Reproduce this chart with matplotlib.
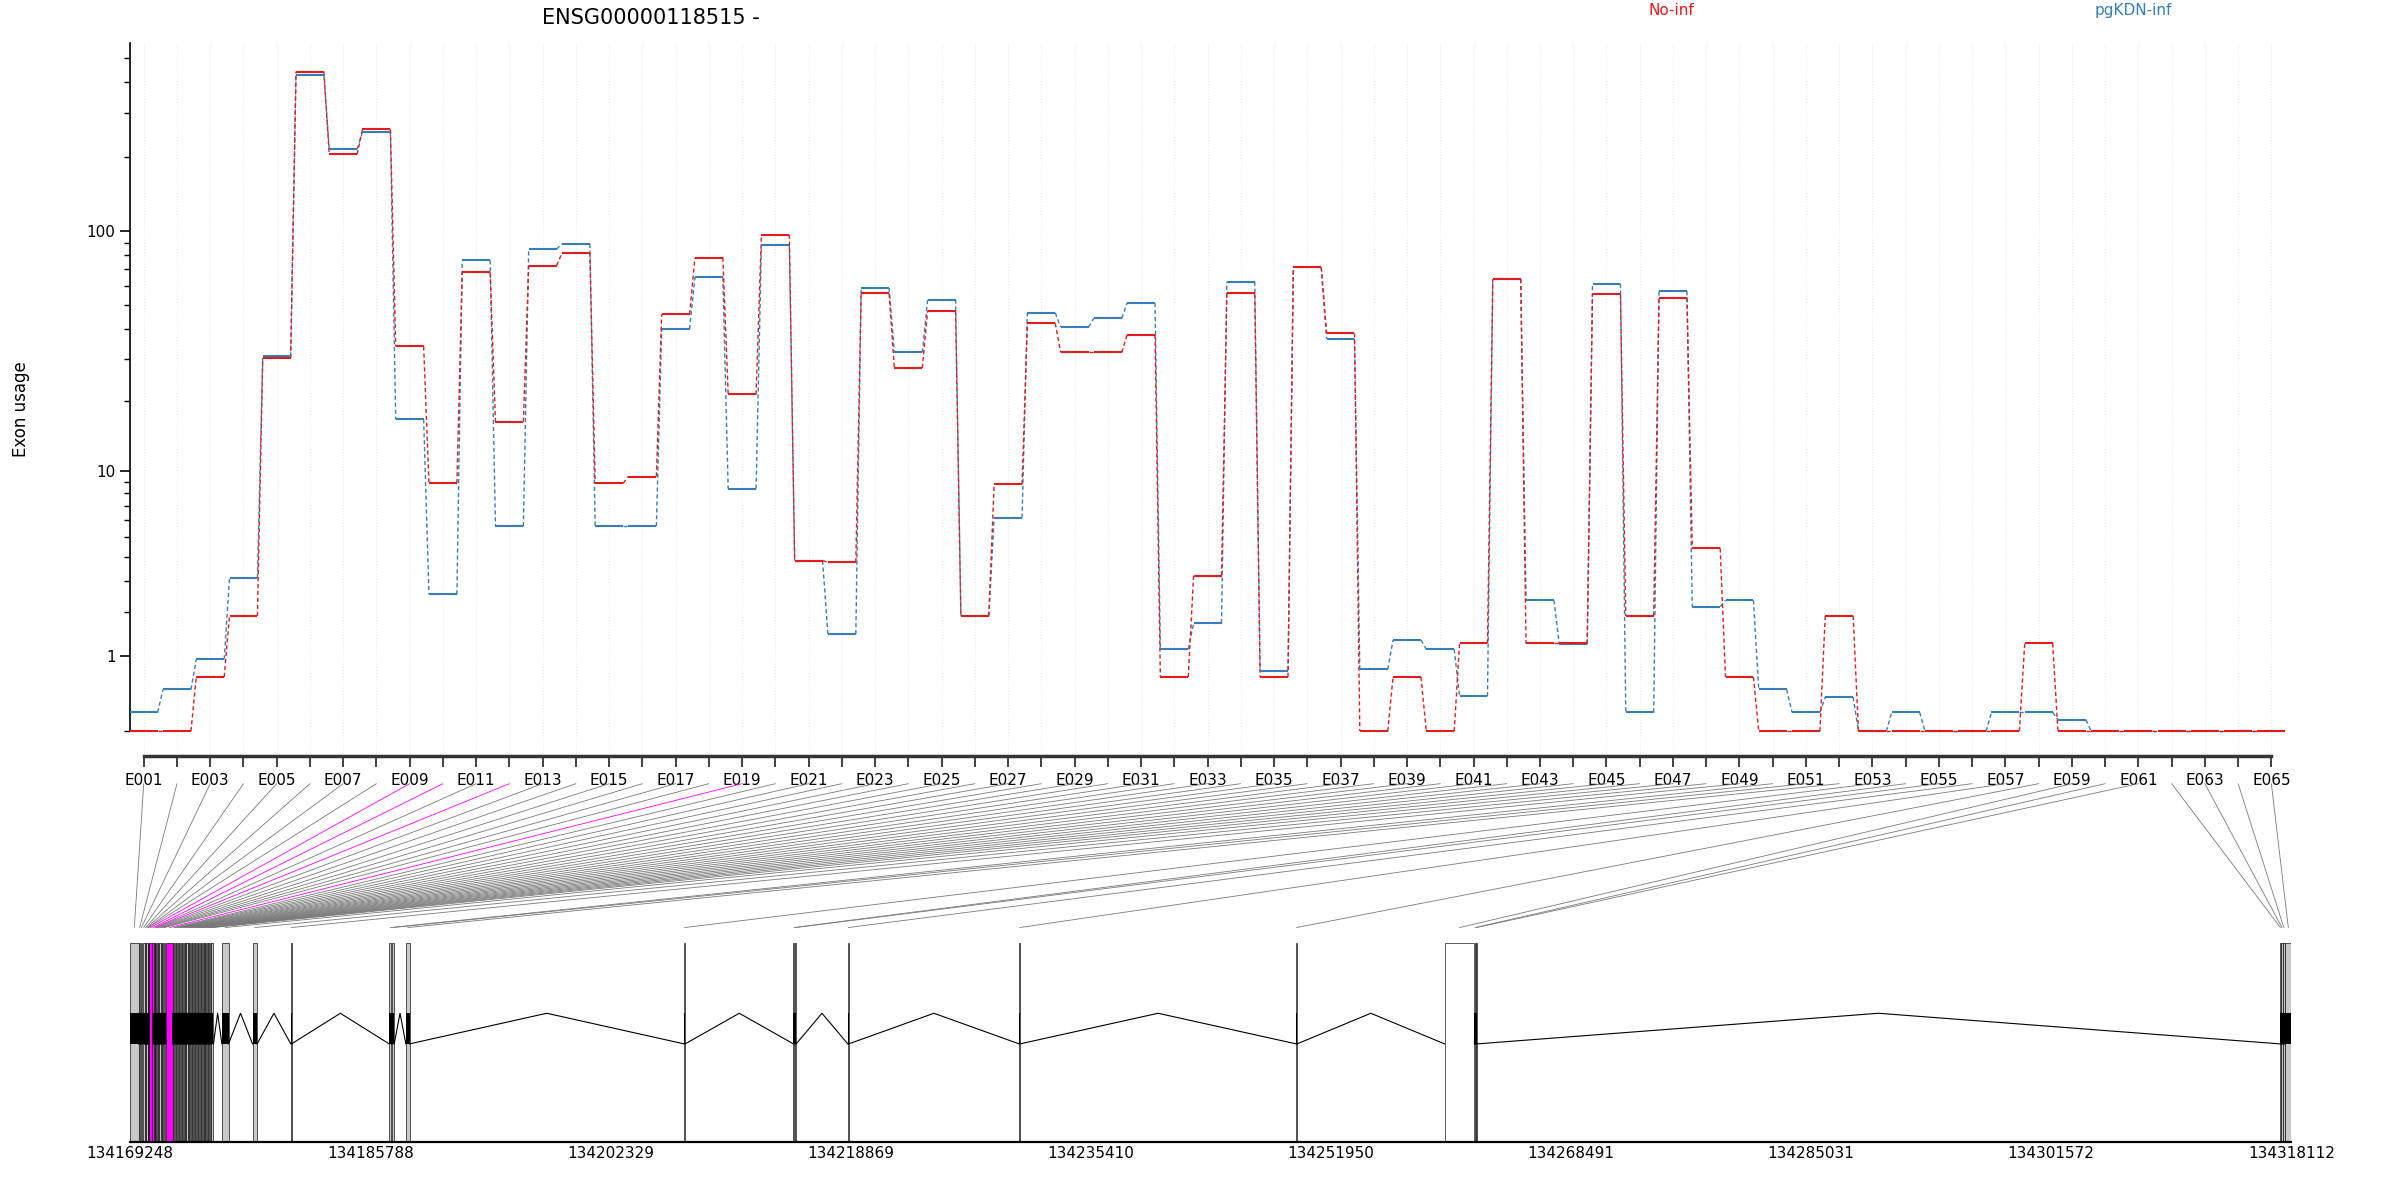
import numpy as np
import matplotlib
matplotlib.use("Agg")
import matplotlib.pyplot as plt
from matplotlib.patches import Rectangle, ConnectionPatch

gene_id = "ENSG00000118515 -"
conditions = ["No-inf", "pgKDN-inf"]
exon_labels = ["E%03d" % i for i in range(1, 66)]

usage_noinf = [0, 0, 0.65, 1.90, 30.3, 440.6, 204.8, 258, 33.9, 8.86,
               68.2, 16.4, 72.6, 81.6, 8.86, 9.5, 46.0, 78.2, 21.4, 96.9,
               3.83, 3.76, 55.9, 27.6, 47.6, 1.90, 8.79, 42.2, 32.0, 32.0, 37.8,
               0.65, 3.2, 55.9, 0.65, 71.4, 38.4, 0, 0.65, 0, 1.25,
               64.0, 1.25, 1.25, 55.5, 1.90, 53.8, 4.41, 0.65, 0,
               0, 1.90, 0, 0, 0, 0, 0, 1.25, 0, 0, 0, 0, 0, 0, 0]
usage_pgkdn = [0.19, 0.47, 0.94, 3.11, 30.8, 425.6, 214.4, 252, 16.8, 2.54,
               76.3, 5.63, 84.7, 89.0, 5.63, 5.63, 40.0, 65.2, 8.38, 87.7,
               3.83, 1.45, 58.9, 32.0, 52.8, 1.90, 6.18, 46.6, 40.7, 44.3, 51.1,
               1.13, 1.71, 62.4, 0.75, 71.4, 36.5, 0.77, 1.32, 1.13, 0.38,
               64.0, 2.35, 1.23, 61.3, 0.19, 57.1, 2.16, 2.35, 0.47,
               0.19, 0.37, 0, 0.19, 0, 0, 0.19, 0.19, 0.11, 0, 0, 0, 0, 0, 0]

gene_start = 134169248
gene_end = 134318112
exon_start_off = [0, 610, 740, 860, 1030, 1120, 1210, 1270, 1290, 1500,
                  1660, 1740, 1830, 1920, 2020, 2120, 2220, 2320, 2480, 2960,
                  3080, 3180, 3280, 3380, 3480, 3590, 3680, 3790, 3880, 3990,
                  4090, 4190, 4290, 4390, 4490, 4590, 4690, 4790, 4890, 4990,
                  5090, 5190, 5290, 5390, 5490, 5600, 6320, 8432, 11067, 17844,
                  18023, 18993, 38155, 45691, 45807, 49433, 61237, 80314, 90539, 92620,
                  92700, 148080, 148180, 148300, 148450]
exon_end_off = [580, 700, 820, 1010, 1100, 1200, 1260, 1285, 1500, 1640,
                1730, 1800, 1900, 2000, 2100, 2200, 2300, 2400, 2950, 3050,
                3150, 3260, 3350, 3460, 3560, 3650, 3760, 3860, 3960, 4060,
                4160, 4260, 4360, 4460, 4560, 4660, 4760, 4860, 4960, 5060,
                5160, 5260, 5360, 5460, 5560, 5740, 6780, 8748, 11120, 18002,
                18192, 19246, 38230, 45760, 45880, 49500, 61300, 80380, 92600, 92680,
                92780, 148150, 148260, 148400, 148864]
significant = ["E009", "E010", "E012", "E019"]
untested = ["E059"]
pos_ticks = [134169248, 134185788, 134202329, 134218869, 134235410,
             134251950, 134268491, 134285031, 134301572, 134318112]

RED = "#e41a1c"
BLUE = "#377eb8"
MAG = "#ff00ff"

fig = plt.figure(figsize=(24, 12), dpi=100)
L, R = 85 / 1568, 1497 / 1568
ax = fig.add_axes([L, 1 - 494 / 784, R - L, (494 - 28) / 784])

def tr(v):
    return np.log10(np.asarray(v, dtype=float) + 1)

x = np.arange(1, 66)
hw = 0.42
for vals, col in ((usage_pgkdn, BLUE), (usage_noinf, RED)):
    y = tr(vals)
    for i in range(len(x)):
        ax.plot([x[i] - hw, x[i] + hw], [y[i], y[i]], color=col, lw=1.5,
                solid_capstyle="butt", zorder=3)
        if i < len(x) - 1:
            ax.plot([x[i] + hw, x[i + 1] - hw], [y[i], y[i + 1]], color=col,
                    lw=1.0, ls=(0, (3, 2)), zorder=2)

for xi in x:
    ax.axvline(xi, color="#ece6f4", lw=0.8, ls=":", zorder=0)

ax.set_xlim(0.59, 65.6)
ax.set_ylim(-0.1, 2.76)
for s in ("top", "right"):
    ax.spines[s].set_visible(False)
ax.spines["left"].set_bounds(0, 2.76)
ax.spines["left"].set_linewidth(1.2)
ax.spines["bottom"].set_bounds(1, 65)
ax.spines["bottom"].set_linewidth(2.5)
ax.spines["bottom"].set_color("#333333")
ax.set_xticks(x)
ax.set_xticklabels([lab if i % 2 == 0 else "" for i, lab in enumerate(exon_labels)],
                   fontsize=11)
ax.tick_params(axis="x", length=8, width=1.3, color="#333333", pad=4)
ax.set_yticks(tr([1, 10, 100]))
ax.set_yticklabels(["1", "10", "100"], fontsize=11)
minor = [0] + list(range(2, 10)) + list(range(20, 100, 10)) + [200, 300, 400, 500]
ax.set_yticks(tr(minor), minor=True)
ax.tick_params(axis="y", which="major", length=7, width=1.2)
ax.tick_params(axis="y", which="minor", length=4, width=1.0)

# gene model
gax = fig.add_axes([L, 1 - 746 / 784, R - L, (746 - 606) / 784])
gax.set_xlim(gene_start, gene_end)
gax.set_ylim(0, 1)
top = (746 - 616) / 140
ilo, ihi = (746 - 682) / 140, (746 - 662) / 140
starts = [gene_start + s for s in exon_start_off]
ends = [gene_start + e for e in exon_end_off]
for i in range(len(starts) - 1):
    a, b = ends[i], starts[i + 1]
    if b > a:
        gax.plot([a, (a + b) / 2, b], [ilo, ihi, ilo], color="black", lw=0.8)
for lab, s, e in zip(exon_labels, starts, ends):
    fc = MAG if lab in significant else ("white" if lab in untested else "#c8c8c8")
    gax.add_patch(Rectangle((s, 0), e - s, top, facecolor=fc, edgecolor="black", lw=0.45))
    if lab not in untested and lab not in significant:
        gax.add_patch(Rectangle((s, ilo), e - s, ihi - ilo, facecolor="black",
                                edgecolor="none"))
for s in ("top", "right", "left"):
    gax.spines[s].set_visible(False)
gax.spines["bottom"].set_linewidth(1.6)
gax.set_yticks([])
gax.set_xticks(pos_ticks)
gax.set_xticklabels([str(p) for p in pos_ticks], fontsize=11)
gax.tick_params(axis="x", length=0, pad=3)

# connectors
yA = -(512 - 494) / (494 - 28)
yB = (746 - 606) / 140
for lab, xi, s, e in zip(exon_labels, x, starts, ends):
    col = MAG if lab in significant else "#7a7a7a"
    cp = ConnectionPatch(xyA=(xi, yA), coordsA=ax.get_xaxis_transform(),
                         xyB=((s + e) / 2, yB), coordsB=gax.get_xaxis_transform(),
                         color=col, lw=0.6)
    fig.add_artist(cp)

fig.text(425 / 1568, 1 - 12 / 784, gene_id, fontsize=15, ha="center", va="center")
fig.text(1092 / 1568, 1 - 7 / 784, conditions[0], color=RED, fontsize=11, ha="center", va="center")
fig.text(1394 / 1568, 1 - 7 / 784, conditions[1], color=BLUE, fontsize=11, ha="center", va="center")
fig.text(14 / 1568, 1 - 267 / 784, "Exon usage", rotation=90, fontsize=12, ha="center", va="center")

fig.savefig("out.png", dpi=100)
